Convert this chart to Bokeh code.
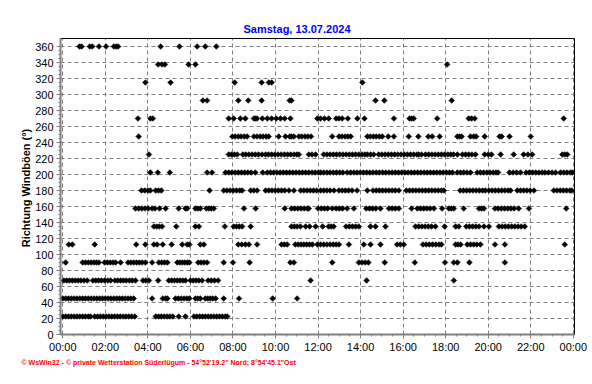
import numpy as np
from bokeh.plotting import figure
from bokeh.models import ColumnDataSource, FixedTicker, Range1d, Title
from bokeh.embed import file_html
from bokeh.resources import INLINE

# Wind gust direction readings: minutes of the day at which each direction was recorded
dir_360 = [47, 53, 76, 83, 102, 122, 144, 151, 156, 276, 329, 379, 402, 433]
dir_337 = [269, 280, 288, 355, 374, 1084]
dir_315 = [233, 304, 485, 561, 581, 589, 845]
dir_292 = [395, 407, 495, 523, 561, 640, 645, 882, 907, 1097]
dir_270 = [212, 247, 254, 468, 482, 501, 515, 539, 544, 548, 563, 577, 589, 602, 614, 626, 642,
           718, 727, 738, 750, 771, 779, 788, 804, 831, 851, 934, 978, 984, 990, 1056,
           1145, 1153, 1162, 1413]
dir_247 = [214, 478, 486, 495, 503, 512, 520, 539, 548, 557, 565, 574, 581, 609, 628, 640, 645, 652,
           666, 674, 683, 691, 700, 760, 779, 787, 796, 804, 812, 859, 867, 876, 884, 893, 901,
           918, 934, 976, 1003, 1031, 1042, 1063, 1113, 1119, 1125, 1150, 1159, 1166, 1190,
           1232, 1238, 1260, 1320]
dir_225 = [243, 468, 476, 484, 492, 508, 516, 525, 534, 543, 552, 562, 572, 580, 589, 598, 607, 616,
           625, 634, 643, 652, 660, 666, 694, 703, 713, 736, 745, 754, 763, 772, 781, 790, 799, 808,
           817, 826, 835, 844, 852, 859, 868, 877, 891, 900, 909, 918, 927, 936, 945, 954, 963, 972,
           981, 990, 999, 1004, 1012, 1023, 1032, 1041, 1050, 1059, 1068, 1077, 1086, 1094, 1102,
           1113, 1127, 1136, 1145, 1154, 1164, 1190, 1200, 1209, 1235, 1272, 1300, 1312, 1324,
           1409, 1416, 1423]
dir_202 = [247, 268, 302, 407, 421, 459, 468, 477, 486, 495, 504, 513, 522, 531, 543, 564, 577, 586,
           595, 604, 613, 622, 631, 640, 649, 658, 667, 676, 685, 694, 703, 712, 721, 727, 736, 745,
           754, 763, 772, 781, 790, 802, 812, 821, 830, 839, 848, 857, 866, 875, 884, 893, 902, 911,
           920, 929, 938, 947, 956, 965, 974, 983, 992, 1001, 1010, 1019, 1028, 1037, 1046, 1055,
           1064, 1073, 1082, 1091, 1099, 1113, 1122, 1131, 1140, 1150, 1169, 1178, 1187, 1196,
           1205, 1214, 1222, 1228, 1260, 1270, 1280, 1291, 1307, 1316, 1325, 1334, 1343, 1352,
           1360, 1370, 1380, 1390, 1404, 1413, 1422, 1431, 1437]
dir_180 = [222, 231, 240, 247, 262, 270, 278, 414, 454, 463, 472, 481, 490, 499, 506, 530, 539, 548,
           572, 581, 590, 599, 608, 617, 626, 638, 652, 671, 680, 689, 698, 707, 716, 727, 736, 745,
           754, 765, 779, 788, 797, 806, 816, 830, 859, 875, 884, 893, 902, 911, 920, 929, 938, 948,
           969, 978, 987, 996, 1005, 1014, 1023, 1032, 1041, 1050, 1059, 1068, 1075, 1121, 1130,
           1139, 1148, 1157, 1166, 1175, 1184, 1192, 1202, 1211, 1220, 1229, 1238, 1247, 1256,
           1263, 1282, 1291, 1300, 1309, 1318, 1329, 1385, 1394, 1403, 1412, 1421, 1430, 1436]
dir_157 = [205, 214, 223, 232, 241, 252, 260, 273, 290, 327, 346, 351, 374, 381, 388, 405, 412, 419,
           426, 511, 544, 626, 645, 654, 663, 672, 681, 690, 694, 720, 729, 738, 747, 760, 771, 780,
           789, 802, 821, 856, 865, 874, 883, 896, 920, 929, 938, 948, 984, 1000, 1009, 1018, 1027,
           1036, 1047, 1070, 1089, 1096, 1103, 1131, 1174, 1181, 1188, 1219, 1228, 1237, 1246,
           1255, 1264, 1273, 1286, 1315, 1420]
dir_135 = [257, 265, 272, 280, 320, 374, 384, 457, 482, 490, 498, 506, 530, 645, 653, 661, 670, 685,
           696, 713, 733, 750, 757, 764, 799, 808, 817, 826, 835, 868, 882, 910, 995, 1004, 1013,
           1022, 1031, 1040, 1051, 1077, 1108, 1117, 1138, 1147, 1156, 1165, 1174, 1188, 1202,
           1230, 1239, 1248, 1257, 1266, 1275, 1284, 1293, 1303]
dir_112 = [17, 27, 90, 207, 233, 257, 266, 282, 307, 337, 351, 357, 388, 398, 495, 505, 515, 525, 548,
           617, 625, 633, 656, 664, 672, 680, 688, 696, 704, 718, 727, 736, 745, 754, 763, 771, 779,
           807, 849, 868, 896, 943, 952, 962, 1016, 1025, 1034, 1043, 1052, 1061, 1068, 1108, 1115,
           1122, 1141, 1150, 1159, 1168, 1178, 1219, 1247, 1416]
dir_090 = [8, 56, 64, 72, 80, 88, 95, 102, 118, 126, 134, 142, 149, 163, 184, 192, 200, 208, 216,
           224, 233, 252, 271, 279, 287, 295, 323, 330, 337, 344, 351, 357, 382, 390, 398, 407, 454,
           480, 527, 642, 652, 760, 835, 844, 853, 862, 908, 993, 1078, 1103, 1113, 1147, 1247]
dir_067 = [3, 11, 19, 27, 35, 43, 51, 60, 69, 85, 93, 101, 109, 118, 127, 135, 147, 155, 163, 171,
           179, 188, 196, 205, 226, 234, 243, 269, 299, 307, 315, 323, 331, 339, 346, 360, 368, 376,
           384, 393, 410, 419, 428, 438, 699, 857, 1103]
dir_045 = [0, 8, 16, 24, 32, 40, 48, 56, 64, 72, 80, 88, 96, 104, 112, 120, 128, 136, 144, 152, 160,
           168, 176, 184, 192, 200, 252, 282, 290, 295, 318, 326, 334, 342, 350, 357, 374, 381, 388,
           402, 409, 416, 423, 431, 454, 497, 592, 661]
dir_022 = [0, 8, 16, 24, 32, 40, 48, 56, 64, 72, 78, 90, 98, 106, 114, 122, 130, 138, 146, 154, 162,
           170, 178, 186, 194, 203, 262, 270, 278, 286, 294, 302, 310, 327, 346, 370, 378, 386, 394,
           402, 410, 418, 426, 434, 442, 450, 458, 464]

directions = [360.0, 337.5, 315.0, 292.5, 270.0, 247.5, 225.0, 202.5, 180.0, 157.5, 135.0, 112.5,
              90.0, 67.5, 45.0, 22.5]
series = [dir_360, dir_337, dir_315, dir_292, dir_270, dir_247, dir_225, dir_202, dir_180, dir_157,
          dir_135, dir_112, dir_090, dir_067, dir_045, dir_022]

x_ticks = list(range(0, 25, 2))
x_tick_labels = ["00:00", "02:00", "04:00", "06:00", "08:00", "10:00", "12:00", "14:00", "16:00",
                 "18:00", "20:00", "22:00", "00:00"]
y_ticks = list(range(0, 361, 20))

title_text = "Samstag, 13.07.2024"
y_label = "Richtung Windb\u00f6en  (\u00b0)"
footer_text = "\u00a9 WsWin32  -  \u00a9 private Wetterstation S\u00fcderl\u00fcgum  -  54\u00b052'19.2\" Nord; 8\u00b054'45.1\"Ost"

xs, ys = [], []
for d, mins in zip(directions, series):
    for m in mins:
        xs.append(m / 60.0)
        ys.append(d)
src = ColumnDataSource(data=dict(x=xs, y=ys))

p = figure(width=592, height=384, output_backend="svg", toolbar_location=None,
           x_range=Range1d(-0.108, 24.056), y_range=Range1d(0, 370),
           min_border_left=60, min_border_right=18, min_border_top=38, min_border_bottom=50)
p.background_fill_color = "white"
p.border_fill_color = "white"
p.outline_line_color = "black"
p.outline_line_width = 1

p.scatter(x="x", y="y", source=src, marker="square", angle=np.pi / 4, size=4.0,
          fill_color="black", line_color="black", line_width=0.6)

GRAY = "#808080"
TICK_FONT = "Liberation Sans"

p.xaxis.ticker = FixedTicker(ticks=x_ticks, minor_ticks=[i * 0.5 for i in range(49)])
p.xaxis.major_label_overrides = {t: lab for t, lab in zip(x_ticks, x_tick_labels)}
p.yaxis.ticker = FixedTicker(ticks=y_ticks, minor_ticks=list(range(0, 361, 5)))

for ax in (p.xaxis[0], p.yaxis[0]):
    ax.axis_line_color = GRAY
    ax.axis_line_width = 2
    ax.major_tick_line_color = GRAY
    ax.minor_tick_line_color = GRAY
    ax.major_tick_out = 4
    ax.major_tick_in = 0
    ax.minor_tick_out = 2
    ax.minor_tick_in = 0
    ax.major_label_text_font = TICK_FONT
    ax.major_label_text_font_size = "11px"
    ax.major_label_text_color = "black"
    ax.major_label_standoff = 3

p.xaxis.major_label_standoff = 2

p.yaxis.axis_label = y_label
p.yaxis.axis_label_text_font = TICK_FONT
p.yaxis.axis_label_text_font_size = "11px"
p.yaxis.axis_label_text_font_style = "bold"
p.yaxis.axis_label_text_color = "black"
p.yaxis.axis_label_standoff = 0

for g in (p.xgrid[0], p.ygrid[0]):
    g.grid_line_color = GRAY
    g.grid_line_dash = "4 3"
    g.grid_line_width = 1

p.title = Title(text=title_text, align="left", offset=183, text_font=TICK_FONT,
                text_font_size="11px", text_font_style="bold", text_color="#0000ff", standoff=8)

p.add_layout(Title(text=footer_text, align="left", offset=-39, text_font=TICK_FONT,
                   text_font_size="7px", text_font_style="bold", text_color="#ff0000",
                   standoff=2), "below")

open("out.html", "w").write(file_html(p, INLINE))
